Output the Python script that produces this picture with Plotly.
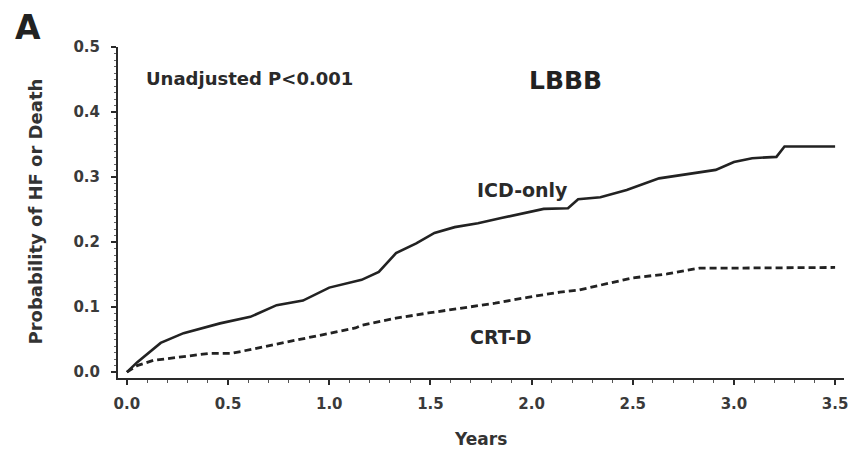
import plotly.graph_objects as go

# Cumulative probability of heart failure or death, LBBB subgroup
icd_years = [0.0, 0.05, 0.167, 0.28, 0.46, 0.61, 0.74, 0.87, 1.0, 1.13, 1.16, 1.245, 1.33, 1.43,
             1.52, 1.62, 1.735, 1.85, 1.98, 2.06, 2.18, 2.23, 2.34, 2.47, 2.63, 2.73, 2.91,
             3.0, 3.09, 3.21, 3.25, 3.5]
icd_prob = [0.0, 0.015, 0.045, 0.06, 0.075, 0.085, 0.103, 0.11, 0.13, 0.14, 0.142, 0.154, 0.183, 0.198,
            0.214, 0.223, 0.229, 0.237, 0.245, 0.251, 0.252, 0.266, 0.269, 0.28, 0.298, 0.303, 0.311,
            0.323, 0.329, 0.331, 0.347, 0.347]

crt_years = [0.0, 0.05, 0.13, 0.25, 0.41, 0.52, 0.66, 0.79, 0.9, 1.03, 1.13, 1.16, 1.33, 1.49, 1.65,
             1.82, 1.98, 2.14, 2.23, 2.34, 2.5, 2.67, 2.83, 3.0, 3.45, 3.5]
crt_prob = [0.0, 0.01, 0.018, 0.023, 0.029, 0.029, 0.038, 0.046, 0.054, 0.062, 0.068, 0.072, 0.083, 0.091,
            0.098, 0.106, 0.115, 0.123, 0.126, 0.134, 0.145, 0.151, 0.16, 0.16, 0.161, 0.161]

x_ticks = [0.0, 0.5, 1.0, 1.5, 2.0, 2.5, 3.0, 3.5]
y_ticks = [0.0, 0.1, 0.2, 0.3, 0.4, 0.5]

INK = "#222222"
FONT = "DejaVu Sans, Verdana, sans-serif"

# plot area in page pixels, used to place the page-level labels
L, R, T, B = 118, 848, 47, 378


def px_x(px):
    return (px - L) / (R - L)


def px_y(py):
    return (B - py) / (B - T)


fig = go.Figure()
fig.add_trace(go.Scatter(x=icd_years, y=icd_prob, mode="lines", name="ICD-only",
                         line=dict(color=INK, width=2.6)))
fig.add_trace(go.Scatter(x=crt_years, y=crt_prob, mode="lines", name="CRT-D",
                         line=dict(color=INK, width=2.8, dash="7px,4px")))

axis_common = dict(showline=True, linecolor="#2a2a2a", linewidth=2, showgrid=False, zeroline=False,
                   ticks="outside", tickcolor="#2a2a2a", tickwidth=1.5, ticklen=5,
                   tickfont=dict(family=FONT, size=15, color="#3a3a3a", weight="bold"))

fig.update_xaxes(range=[-0.044, 3.544], tickvals=x_ticks, ticktext=[f"{v:.1f}" for v in x_ticks],
                 ticklabelstandoff=6,
                 minor=dict(dtick=0.1, ticks="outside", ticklen=3, tickcolor="#555", tickwidth=1),
                 **axis_common)
fig.update_yaxes(range=[-0.009, 0.5], tickvals=y_ticks, ticktext=[f"{v:.1f}" for v in y_ticks],
                 ticklabelstandoff=8,
                 minor=dict(dtick=0.01, ticks="outside", ticklen=2, tickcolor="#666", tickwidth=1),
                 **axis_common)

annotations = [
    dict(text="<b>A</b>", x=px_x(28), y=px_y(28), xref="paper", yref="paper",
         xanchor="center", yanchor="middle", showarrow=False,
         font=dict(family=FONT, size=33, color=INK)),
    dict(text="<b>Unadjusted P<0.001</b>", x=0.608, y=0.452, showarrow=False,
         font=dict(family=FONT, size=18, color="#2a2a2a")),
    dict(text="<b>LBBB</b>", x=2.167, y=0.449, showarrow=False,
         font=dict(family=FONT, size=25, color=INK)),
    dict(text="<b>ICD-only</b>", x=1.956, y=0.28, showarrow=False,
         font=dict(family=FONT, size=19, color="#2a2a2a")),
    dict(text="<b>CRT-D</b>", x=1.848, y=0.054, showarrow=False,
         font=dict(family=FONT, size=19, color="#2a2a2a")),
    dict(text="<b>Years</b>", x=px_x(482), y=px_y(439), xref="paper", yref="paper",
         xanchor="center", yanchor="middle", showarrow=False,
         font=dict(family=FONT, size=17, color="#333")),
    dict(text="<b>Probability of HF or Death</b>", x=px_x(35), y=px_y(211), xref="paper",
         yref="paper", xanchor="center", yanchor="middle", textangle=-90, showarrow=False,
         font=dict(family=FONT, size=18, color="#333")),
]

fig.update_layout(width=856, height=451, margin=dict(l=L, r=856 - R, t=T, b=451 - B),
                  paper_bgcolor="white", plot_bgcolor="white", showlegend=False,
                  annotations=annotations)

fig.write_html("out.html")
